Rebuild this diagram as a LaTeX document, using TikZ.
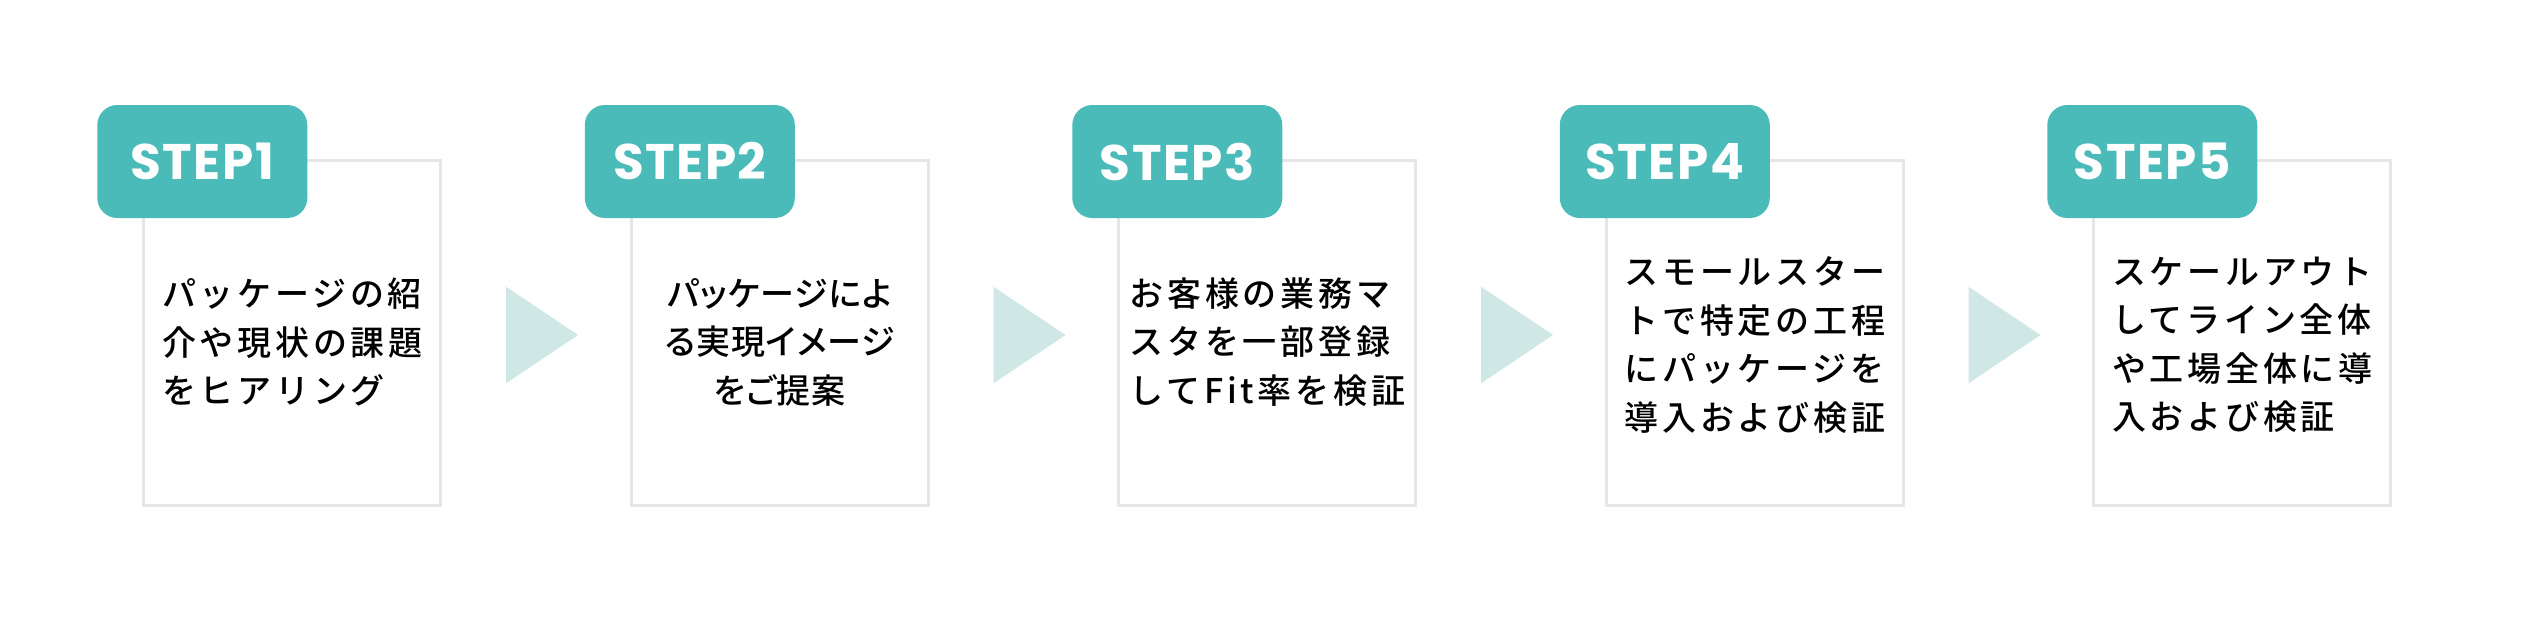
\documentclass[tikz,border=0pt]{standalone}
\usepackage{fontspec}
\setmainfont{Poppins}
\newfontfamily\jp[UprightFont=* Medium,LetterSpace=11]{Noto Sans CJK JP}
\newfontfamily\jpp[UprightFont=* Medium,RawFeature=+palt,LetterSpace=3]{Noto Sans CJK JP}
\definecolor{teal1}{HTML}{4BBBBA}
\definecolor{arrowc}{HTML}{CFE8E6}
\definecolor{boxline}{HTML}{E6E6E6}
\tikzset{
  stepbox/.style={draw=boxline, line width=3pt, minimum width=297pt, minimum height=345pt, inner sep=0pt},
  badge/.style={fill=teal1, rounded corners=20pt, minimum width=210pt, minimum height=113pt, inner sep=0pt,
    text=white, font=\fontsize{50}{54}\selectfont\bfseries\addfontfeatures{LetterSpace=3}},
  body/.style={font=\jp\fontsize{34}{48.5}\selectfont, align=left, inner sep=0pt, text=black},
  bodyc/.style={font=\jpp\fontsize{34}{48.5}\selectfont, align=center, inner sep=0pt, text=black},
  tri/.style={fill=arrowc}
}
\begin{document}
\begin{tikzpicture}[x=1pt,y=-1pt]
\useasboundingbox (0,0) rectangle (2543,633);
\fill[white] (0,0) rectangle (2543,633);
\def\pitch{487.5}
% boxes
\foreach \i in {0,...,4}{
  \node[stepbox] (box\i) at (292.3+\i*\pitch,333) {};
}
% badges
\foreach \i/\t in {0/STEP1,1/STEP2,2/STEP3,3/STEP4,4/STEP5}{
  \node[badge] (badge\i) at (202.3+\i*\pitch,161.5) {\t};
}
% arrows
\foreach \i in {0,...,3}{
  \fill[tri] (506+\i*\pitch,286.7) -- (578+\i*\pitch,335) -- (506+\i*\pitch,383.3) -- cycle;
}
% texts
\node[body]  (t0) at (box0.center) [yshift=-9pt] {パッケージの紹\\介や現状の課題\\をヒアリング};
\node[bodyc] (t1) at (box1.center) [yshift=-9pt] {パッケージによ\\る実現イメージ\\をご提案};
\node[body]  (t2) at (box2.center) [yshift=-9pt] {お客様の業務マ\\スタを一部登録\\してFit率を検証};
\node[body]  (t3) at (box3.center) [yshift=-12pt] {スモールスター\\トで特定の工程\\にパッケージを\\導入および検証};
\node[body]  (t4) at (box4.center) [yshift=-12pt] {スケールアウト\\してライン全体\\や工場全体に導\\入および検証};
\end{tikzpicture}
\end{document}
